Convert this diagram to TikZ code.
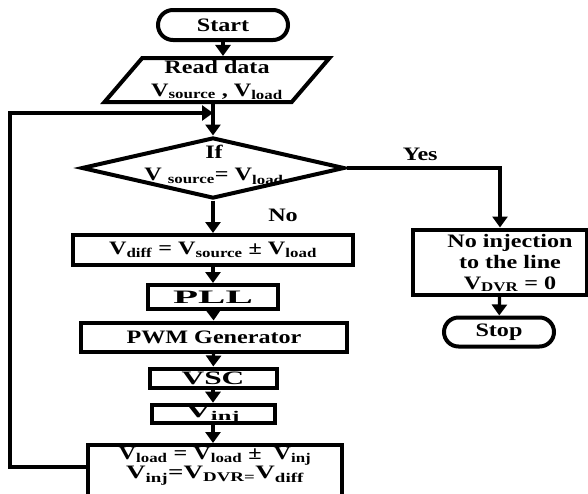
\documentclass[tikz,border=0pt]{standalone}
\usepackage{fontspec}
\setmainfont{Liberation Serif}[FakeStretch=1.27]
\usetikzlibrary{shapes.geometric,shapes.misc,arrows.meta}
\newcommand{\subs}[1]{\textsubscript{#1}}
\newcommand{\widen}[2]{\scalebox{#1}[1]{#2}}

\begin{document}
\begin{tikzpicture}[x=1pt, y=-1pt,
  every node/.style={inner sep=0pt, font=\fontsize{19}{23}\selectfont\bfseries},
  tight/.style={font=\fontsize{19}{18}\selectfont\bfseries},
  box/.style={draw, line width=4pt},
  proc/.style={box, shape=rectangle},
  term/.style={box, shape=rounded rectangle, minimum width=130, minimum height=30},
  io/.style={box, shape=trapezium, trapezium stretches=true, trapezium left angle=50, trapezium right angle=130},
  dec/.style={box, shape=diamond},
  arr/.style={line width=3.3pt, -{Triangle[width=15pt,length=11pt]}}]
\useasboundingbox (0,0) rectangle (588,493);
\node[term] (start) at (223,25) {Start};
\node[io, minimum width=225, minimum height=44, align=center] (read) at (217,80) {Read data\\V\subs{source} , V\subs{load}};
\node[dec, minimum width=263, minimum height=61] (ifv) at (213,168) {};
\node[align=center, font=\fontsize{19}{22}\selectfont\bfseries] (ifvtext) at (214,165) {If\\V \subs{source}= V\subs{load}};
\node[proc, minimum width=280, minimum height=30] (diff) at (213,250) {V\subs{diff} = V\subs{source} ± V\subs{load}};
\node[proc, minimum width=130, minimum height=24] (pll) at (213,297) {\widen{1.7}{PLL}};
\node[proc, minimum width=266, minimum height=29] (pwm) at (214,337) {PWM Generator};
\node[proc, minimum width=127, minimum height=19] (vsc) at (213,378) {\widen{1.3}{VSC}};
\node[proc, minimum width=123, minimum height=18] (vinj) at (213,414) {\widen{1.45}{V\subs{inj}}};
\node[proc, minimum width=254, minimum height=52] (upd) at (215,471) {};
\node[tight, align=center] (updtext) at (215,466) {V\subs{load} = V\subs{load} ± ~V\subs{inj}\\\widen{1.12}{V\subs{inj}=V\subs{DVR=}V\subs{diff}}};
\node[proc, minimum width=174, minimum height=65] (noinj) at (500,262) {};
\node[align=center, font=\fontsize{19}{21}\selectfont\bfseries] (noinjtext) at (510,263) {No injection\\to the line\\V\subs{DVR} = 0};
\node[term, minimum width=110, minimum height=29] (stop) at (499,332) {Stop};
\node (no) at (283,215) {No};
\coordinate (loopin) at (213,113);

\draw[arr] (start.south) -- (start.south |- read.north);
\draw[arr] (read.south -| ifv.north) -- (ifv.north);
\draw[arr] (ifv.south) -- (diff.north);
\draw[arr] (diff) -- (pll);
\draw[arr] (pll) -- (pwm);
\draw[arr] (pwm) -- (vsc);
\draw[arr] (vsc) -- (vinj);
\draw[arr] (vinj) -- (upd.north -| vinj);
\draw[arr] (ifv.east) -| (noinj.north) node[pos=0.24, above=6pt] (yes) {Yes};
\draw[arr] (noinj) -- (stop);
\draw[arr] ([yshift=4pt]upd.west) -- ++(-76,0) |- (loopin);
\end{tikzpicture}
\end{document}
